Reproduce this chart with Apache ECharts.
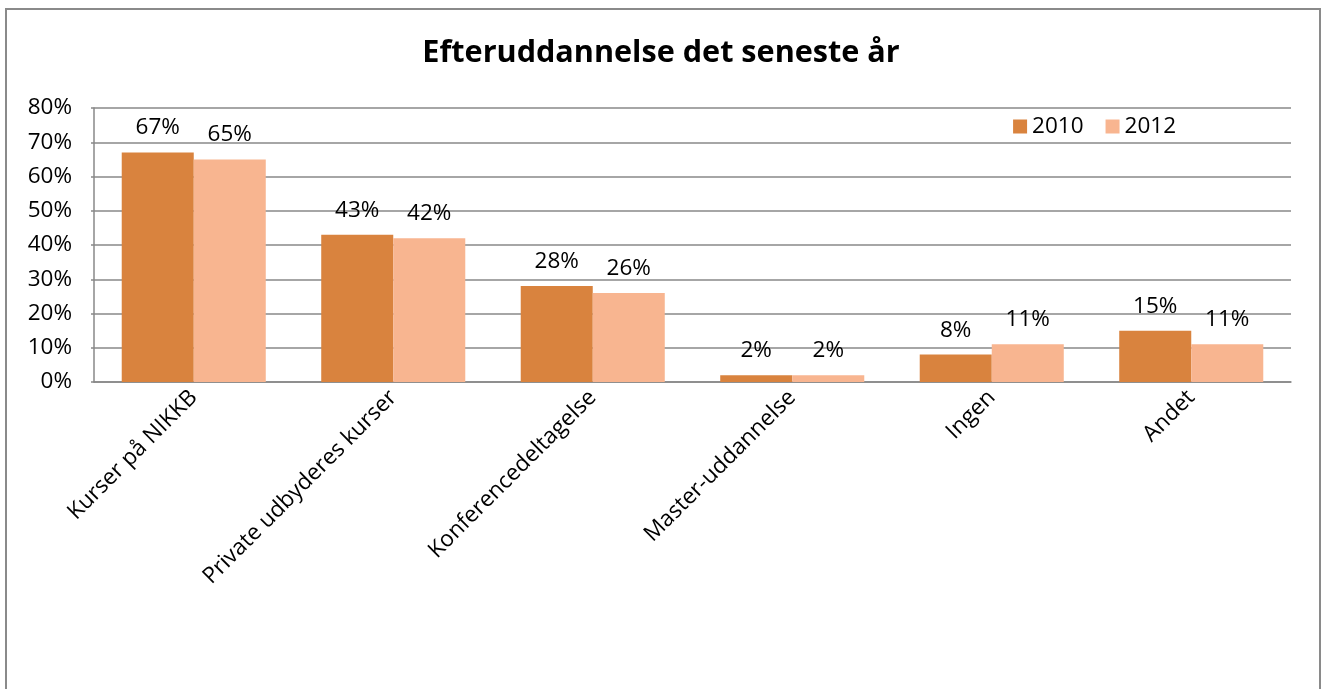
<!DOCTYPE html>
<html><head><meta charset="utf-8">
<script src="https://cdn.jsdelivr.net/npm/echarts@6/dist/echarts.min.js"></script>
<style>html,body{margin:0;padding:0;background:#fff}#c{width:1322px;height:689px}</style>
</head><body><div id="c"></div>
<script>
const categories = ['Kurser på NIKKB', 'Private udbyderes kurser', 'Konferencedeltagelse', 'Master-uddannelse', 'Ingen', 'Andet'];
const seriesNames = ['2010', '2012'];
const values2010 = [67, 43, 28, 2, 8, 15];
const values2012 = [65, 42, 26, 2, 11, 11];
const yTicks = [0, 10, 20, 30, 40, 50, 60, 70, 80];

const font = '"Open Sans", "Liberation Sans", sans-serif';
const fs = 22.5;
const chart = echarts.init(document.getElementById('c'));
const lbl = {show: true, position: 'top', distance: 13, formatter: p => p.value + '%', color: '#000', fontSize: fs, fontFamily: font};
chart.setOption({
  animation: false,
  title: {text: 'Efteruddannelse det seneste år', left: 'center', top: 33,
    textStyle: {fontFamily: font, fontSize: 30.6, fontWeight: 'bold', color: '#000'}},
  legend: {right: 141, top: 110, itemWidth: 14, itemHeight: 14, itemGap: 22, icon: 'rect',
    textStyle: {fontFamily: font, fontSize: fs, color: '#000'}, data: seriesNames},
  grid: {left: 94, right: 31, top: 108, bottom: 307, containLabel: false},
  xAxis: {type: 'category', data: categories,
    axisLine: {lineStyle: {color: '#888', width: 1.5}}, axisTick: {show: false},
    axisLabel: {rotate: 45, interval: 0, margin: 12, color: '#000', fontSize: fs, fontFamily: font}},
  yAxis: {type: 'value', min: yTicks[0], max: yTicks[yTicks.length - 1], interval: 10,
    axisLine: {show: true, lineStyle: {color: '#888', width: 1.5}},
    axisTick: {show: true, length: 3, lineStyle: {color: '#888', width: 1.5}},
    splitLine: {lineStyle: {color: '#888', width: 1.5}},
    axisLabel: {formatter: v => v + '%', color: '#000', fontSize: fs, fontFamily: font, margin: 22}},
  graphic: [{type: 'rect', shape: {x: 6, y: 9, width: 1314, height: 700},
    style: {fill: 'none', stroke: '#8a8a8a', lineWidth: 2}, silent: true, z: -1}],
  series: [
    {name: seriesNames[0], type: 'bar', data: values2010, barGap: '0%', barCategoryGap: '27.8%',
      itemStyle: {color: '#D9833E'}, label: lbl},
    {name: seriesNames[1], type: 'bar', data: values2012,
      itemStyle: {color: '#F8B590'}, label: lbl}
  ]
});
</script></body></html>
